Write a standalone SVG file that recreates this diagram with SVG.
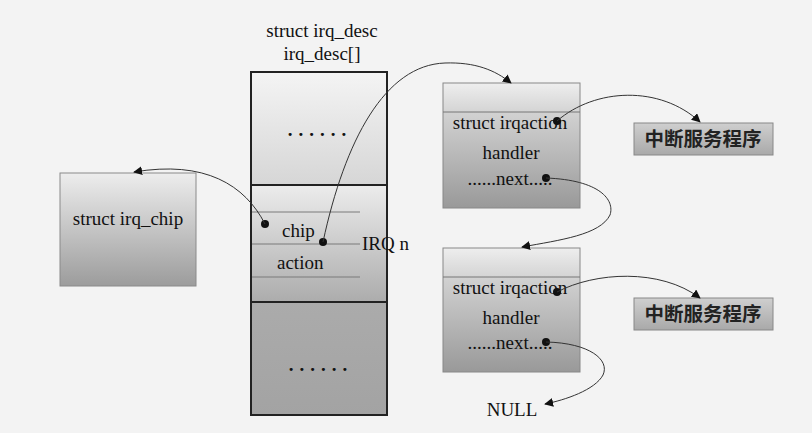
<svg xmlns="http://www.w3.org/2000/svg" width="812" height="433" viewBox="0 0 812 433">
<defs>
<linearGradient id="gTop" x1="0" y1="0" x2="0" y2="1"><stop offset="0" stop-color="#f4f4f4"/><stop offset="1" stop-color="#d6d6d6"/></linearGradient>
<linearGradient id="gMid" x1="0" y1="0" x2="0" y2="1"><stop offset="0" stop-color="#ececec"/><stop offset="1" stop-color="#acacac"/></linearGradient>
<linearGradient id="gBot" x1="0" y1="0" x2="0" y2="1"><stop offset="0" stop-color="#ababab"/><stop offset="1" stop-color="#a3a3a3"/></linearGradient>
<linearGradient id="gChip" x1="0" y1="0" x2="0" y2="1"><stop offset="0" stop-color="#ededed"/><stop offset="1" stop-color="#9c9c9c"/></linearGradient>
<linearGradient id="gHead" x1="0" y1="0" x2="0" y2="1"><stop offset="0" stop-color="#eeeeee"/><stop offset="1" stop-color="#d4d4d4"/></linearGradient>
<linearGradient id="gAct" x1="0" y1="0" x2="0" y2="1"><stop offset="0" stop-color="#d2d2d2"/><stop offset="1" stop-color="#999999"/></linearGradient>
<linearGradient id="gSvc" x1="0" y1="0" x2="0" y2="1"><stop offset="0" stop-color="#cfcfcf"/><stop offset="1" stop-color="#a9a9a9"/></linearGradient>
<marker id="arr" viewBox="0 0 10 10" refX="9" refY="5" markerWidth="9" markerHeight="9" markerUnits="userSpaceOnUse" orient="auto"><path d="M0,0 L10,5 L0,10 z" fill="#111"/></marker>
</defs>
<style>
text{font-family:"Liberation Serif","Times New Roman",serif;font-size:19px;fill:#111}
.c{text-anchor:middle}
.dots{font-weight:bold;letter-spacing:6px}
.cjk{font-family:"Noto Sans CJK SC",sans-serif;font-size:19.5px;font-weight:bold;fill:#222;text-anchor:middle}
.thin{stroke:#7a7a7a;stroke-width:1;fill:none}
.conn path{fill:none;stroke:#333;stroke-width:1;marker-end:url(#arr)}
.dot{fill:#111}
</style>
<rect width="812" height="433" fill="#f3f3f3"/>

<g id="title">
<text class="c" x="322" y="37">struct irq_desc</text>
<text class="c" x="322" y="60">irq_desc[]</text>
</g>

<g id="irq_desc">
<rect x="251" y="72" width="136" height="113" fill="url(#gTop)"/>
<rect x="251" y="185" width="136" height="117" fill="url(#gMid)"/>
<rect x="251" y="302" width="136" height="113" fill="url(#gBot)"/>
<line x1="251" y1="212" x2="360" y2="212" class="thin"/>
<line x1="251" y1="244" x2="360" y2="244" class="thin"/>
<line x1="251" y1="277" x2="360" y2="277" class="thin"/>
<line x1="251" y1="185" x2="387" y2="185" stroke="#222" stroke-width="2"/>
<line x1="251" y1="302" x2="387" y2="302" stroke="#222" stroke-width="2"/>
<rect x="251" y="72" width="136" height="343" fill="none" stroke="#222" stroke-width="2"/>
<text class="c dots" x="320" y="136">......</text>
<text class="c dots" x="321" y="371">......</text>
<text x="282" y="237">chip</text>
<text x="277" y="269">action</text>
<text x="362" y="250">IRQ n</text>
<circle class="dot" cx="265" cy="224" r="4"/>
<circle class="dot" cx="323" cy="242" r="4"/>
</g>

<g id="irq_chip">
<rect x="60" y="173" width="136" height="113" fill="url(#gChip)" stroke="#8a8a8a" stroke-width="1"/>
<text class="c" x="128" y="225">struct irq_chip</text>
</g>

<g id="irqaction1">
<rect x="443" y="83" width="137" height="29" fill="url(#gHead)"/>
<rect x="443" y="112" width="137" height="96" fill="url(#gAct)"/>
<rect x="443" y="83" width="137" height="125" fill="none" stroke="#888" stroke-width="1"/>
<line x1="443" y1="112" x2="580" y2="112" stroke="#777" stroke-width="1"/>
<text class="c" x="510" y="129">struct irqaction</text>
<text class="c" x="511" y="159">handler</text>
<text class="c" x="510" y="185">......next.....</text>
<circle class="dot" cx="557" cy="121" r="4"/>
<circle class="dot" cx="546" cy="178" r="4"/>
</g>

<g id="irqaction2">
<rect x="443" y="248" width="137" height="29" fill="url(#gHead)"/>
<rect x="443" y="277" width="137" height="95" fill="url(#gAct)"/>
<rect x="443" y="248" width="137" height="124" fill="none" stroke="#888" stroke-width="1"/>
<line x1="443" y1="277" x2="580" y2="277" stroke="#777" stroke-width="1"/>
<text class="c" x="510" y="294">struct irqaction</text>
<text class="c" x="511" y="324">handler</text>
<text class="c" x="510" y="349">......next.....</text>
<circle class="dot" cx="557" cy="292" r="4"/>
<circle class="dot" cx="546" cy="342" r="4"/>
</g>

<g id="isr1">
<rect x="634" y="123" width="139" height="32" fill="url(#gSvc)" stroke="#888" stroke-width="1"/>
<text class="cjk" x="703" y="146">中断服务程序</text>
</g>

<g id="isr2">
<rect x="634" y="298" width="139" height="32" fill="url(#gSvc)" stroke="#888" stroke-width="1"/>
<text class="cjk" x="703" y="321">中断服务程序</text>
</g>

<g id="null">
<text class="c" x="512" y="416">NULL</text>
</g>

<g class="conn" id="connectors">
<path d="M265,224 C245,185 205,160 134,172"/>
<path d="M323,242 C345,140 385,65 445,63 C475,62 495,70 511,83"/>
<path d="M557,121 C595,88 660,85 700,122"/>
<path d="M546,178 C600,180 615,200 610,215 C600,235 560,240 522,247"/>
<path d="M557,292 C595,272 660,268 700,298"/>
<path d="M546,342 C590,343 610,360 603,375 C595,390 565,400 545,404"/>
</g>
</svg>
